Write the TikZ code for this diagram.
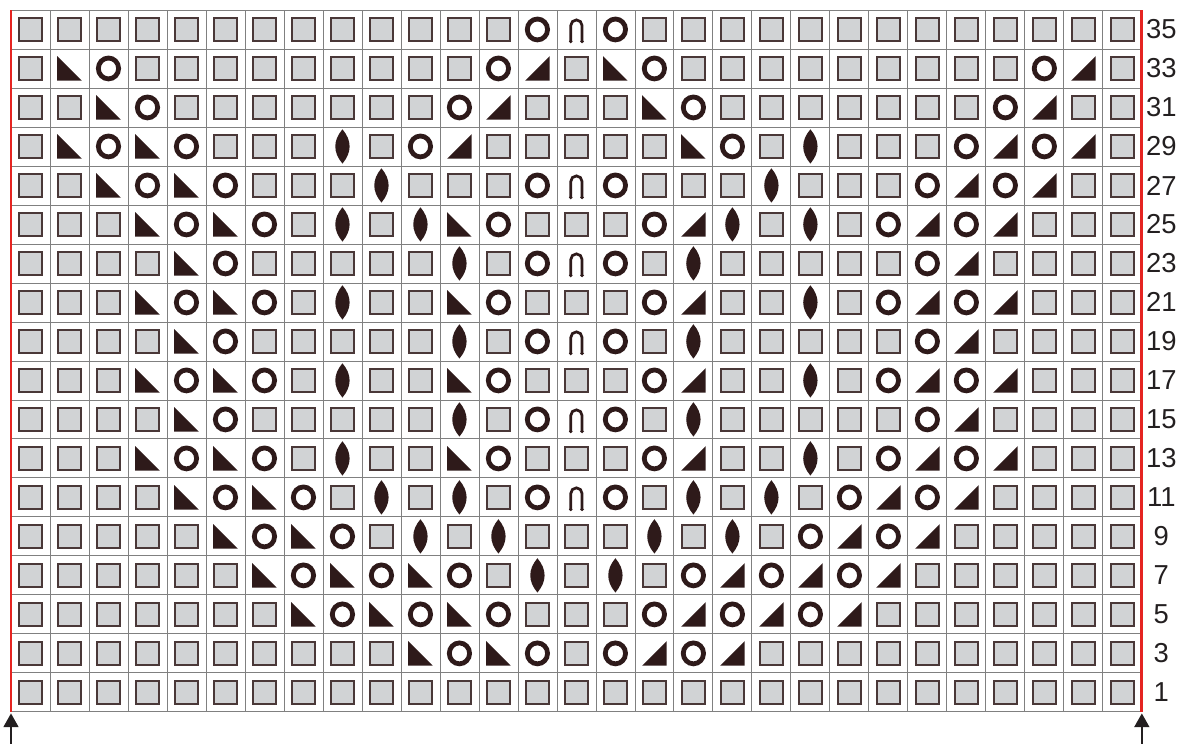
\documentclass[tikz,border=0pt]{standalone}
\usepackage{fontspec}
\setsansfont{Liberation Sans}
\usetikzlibrary{arrows.meta}
\definecolor{chartink}{HTML}{2E1A1A}
\definecolor{chartknit}{HTML}{D1D3D5}
\definecolor{chartedge}{HTML}{4A3838}
\definecolor{chartgrid}{HTML}{808080}
\definecolor{chartred}{HTML}{E52421}
\definecolor{chartdark}{HTML}{231F20}
\tikzset{
  pics/k/.style={code={\filldraw[fill=chartknit, draw=chartedge, line width=1.4pt] (-0.29,-0.29) rectangle (0.29,0.29);}},
  pics/o/.style={code={\draw[chartink, line width=3.5pt] (0,0) ellipse[x radius=0.26, y radius=0.268];}},
  pics/l/.style={code={\fill[chartink] (-0.315,0.315) -- (-0.315,-0.315) -- (0.315,-0.315) -- cycle;}},
  pics/r/.style={code={\fill[chartink] (-0.315,-0.315) -- (0.315,-0.315) -- (0.315,0.315) -- cycle;}},
  pics/v/.style={code={\fill[chartink] (0,0.44) .. controls (0.245,0.15) and (0.245,-0.15) .. (0,-0.44) .. controls (-0.245,-0.15) and (-0.245,0.15) .. (0,0.44) -- cycle;}},
  pics/n/.style={code={
    \draw[chartink, line width=2pt] (-0.145,-0.31) -- (-0.145,0.1) arc[start angle=180, end angle=0, radius=0.145] -- (0.145,-0.31);
    \fill[chartink] (-0.145,-0.31) ellipse[x radius=0.05, y radius=0.045];
    \fill[chartink] (0.145,-0.31) ellipse[x radius=0.05, y radius=0.045];
  }},
}

\begin{document}
\begin{tikzpicture}[
  x=1cm, y=1cm,
  gridline/.style={chartgrid, line width=0.6pt},
  edgeline/.style={chartred, line width=2pt},
  rowlab/.style={font=\sffamily\fontsize{20pt}{20pt}\selectfont, text=chartdark, inner sep=0pt},
  rowarrow/.style={-{Triangle[length=10pt, width=11pt]}, chartdark, line width=1pt},
]
\useasboundingbox (-0.282,-0.821) rectangle (30.03,18.256);

\draw[gridline] (0,0) grid (29,18);

\foreach \lab/\cells in {
  35/{k,k,k,k,k,k,k,k,k,k,k,k,k,o,n,o,k,k,k,k,k,k,k,k,k,k,k,k,k},
  33/{k,l,o,k,k,k,k,k,k,k,k,k,o,r,k,l,o,k,k,k,k,k,k,k,k,k,o,r,k},
  31/{k,k,l,o,k,k,k,k,k,k,k,o,r,k,k,k,l,o,k,k,k,k,k,k,k,o,r,k,k},
  29/{k,l,o,l,o,k,k,k,v,k,o,r,k,k,k,k,k,l,o,k,v,k,k,k,o,r,o,r,k},
  27/{k,k,l,o,l,o,k,k,k,v,k,k,k,o,n,o,k,k,k,v,k,k,k,o,r,o,r,k,k},
  25/{k,k,k,l,o,l,o,k,v,k,v,l,o,k,k,k,o,r,v,k,v,k,o,r,o,r,k,k,k},
  23/{k,k,k,k,l,o,k,k,k,k,k,v,k,o,n,o,k,v,k,k,k,k,k,o,r,k,k,k,k},
  21/{k,k,k,l,o,l,o,k,v,k,k,l,o,k,k,k,o,r,k,k,v,k,o,r,o,r,k,k,k},
  19/{k,k,k,k,l,o,k,k,k,k,k,v,k,o,n,o,k,v,k,k,k,k,k,o,r,k,k,k,k},
  17/{k,k,k,l,o,l,o,k,v,k,k,l,o,k,k,k,o,r,k,k,v,k,o,r,o,r,k,k,k},
  15/{k,k,k,k,l,o,k,k,k,k,k,v,k,o,n,o,k,v,k,k,k,k,k,o,r,k,k,k,k},
  13/{k,k,k,l,o,l,o,k,v,k,k,l,o,k,k,k,o,r,k,k,v,k,o,r,o,r,k,k,k},
  11/{k,k,k,k,l,o,l,o,k,v,k,v,k,o,n,o,k,v,k,v,k,o,r,o,r,k,k,k,k},
  9/{k,k,k,k,k,l,o,l,o,k,v,k,v,k,k,k,v,k,v,k,o,r,o,r,k,k,k,k,k},
  7/{k,k,k,k,k,k,l,o,l,o,l,o,k,v,k,v,k,o,r,o,r,o,r,k,k,k,k,k,k},
  5/{k,k,k,k,k,k,k,l,o,l,o,l,o,k,k,k,o,r,o,r,o,r,k,k,k,k,k,k,k},
  3/{k,k,k,k,k,k,k,k,k,k,l,o,l,o,k,o,r,o,r,k,k,k,k,k,k,k,k,k,k},
  1/{k,k,k,k,k,k,k,k,k,k,k,k,k,k,k,k,k,k,k,k,k,k,k,k,k,k,k,k,k}}{
  \foreach \s [count=\c] in \cells {
    \pic at (\c-0.5,\lab/2) {\s};
  }
  \node[rowlab] (lab\lab) at (29.5,\lab/2) {\lab};
}

\draw[edgeline] (0,0) -- (0,18);
\draw[edgeline] (29,0) -- (29,18);

\coordinate (footL) at (0,-0.821);
\coordinate (tipL) at (0,-0.04);
\coordinate (footR) at (29,-0.821);
\coordinate (tipR) at (29,-0.04);
\draw[rowarrow] (footL) -- (tipL);
\draw[rowarrow] (footR) -- (tipR);
\end{tikzpicture}
\end{document}
